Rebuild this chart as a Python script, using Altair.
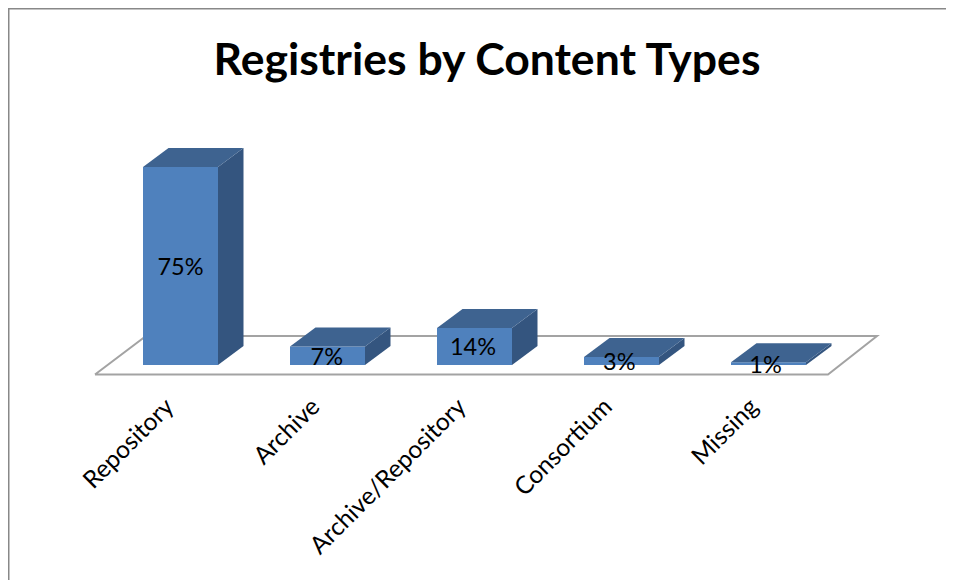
import altair as alt
import pandas as pd

categories = ["Repository", "Archive", "Archive/Repository", "Consortium", "Missing"]
values = [75, 7, 14, 3, 1]
labels = ["75%", "7%", "14%", "3%", "1%"]
title = "Registries by Content Types"

FONT = "Lato"
W, H = 938, 572
PITCH = 147.0          # px per category
PX_PER_PCT = 2.64      # px per percent
BAR = 75 / PITCH       # bar width in category units
DX = 25.5 / PITCH      # depth offset in category units
DY = 19 / PX_PER_PCT   # depth offset in percent units

x_scale = alt.Scale(domain=[(8 - 143) / PITCH, (946 - 143) / PITCH], nice=False, zero=False)
y_scale = alt.Scale(domain=[(365 - 580) / PX_PER_PCT, (365 - 8) / PX_PER_PCT], nice=False, zero=False)
X = lambda f: alt.X(f, type="quantitative", scale=x_scale, axis=None)
Y = lambda f: alt.Y(f, type="quantitative", scale=y_scale, axis=None, stack=None)

front, side, top, text, ticks = [], [], [], [], []
for i, (c, v, l) in enumerate(zip(categories, values, labels)):
    a, b = i, i + BAR
    front.append(dict(c=c, x=a, x2=b, y=0, y2=v))
    side += [dict(c=c, k=0, x=b, y=0, y2=v), dict(c=c, k=1, x=b + DX, y=DY, y2=v + DY)]
    top += [
        dict(c=c, k=0, x=a, y=v, y2=v),
        dict(c=c, k=1, x=a + DX, y=v, y2=v + DY),
        dict(c=c, k=2, x=b, y=v, y2=v + DY),
        dict(c=c, k=3, x=b + DX, y=v + DY, y2=v + DY),
    ]
    text.append(dict(x=(a + b) / 2 - 0.005 * i, y=v / 2 - 0.7, t=l))
    ticks.append(dict(x=i * 0.994 + 0.185, y=-14.5, t=c))

# floor outline, in the same scales
fy0, fy1 = -3.6, 11
floor_pts = [((95 - 143) / PITCH, fy0), ((828 - 143) / PITCH, fy0),
             ((877 - 143) / PITCH, fy1), ((146 - 143) / PITCH, fy1),
             ((95 - 143) / PITCH, fy0)]
floor = pd.DataFrame([dict(k=k, x=x, y=y) for k, (x, y) in enumerate(floor_pts)])

floor_l = alt.Chart(floor).mark_line(color="#A3A3A3", strokeWidth=2, strokeJoin="miter").encode(
    x=X("x"), y=Y("y"), order="k:Q")

front_l = alt.Chart(pd.DataFrame(front)).mark_rect(color="#4F81BD").encode(
    x=X("x"), x2="x2", y=Y("y"), y2="y2")
side_l = alt.Chart(pd.DataFrame(side)).mark_area(color="#34557F", orient="vertical").encode(
    x=X("x"), y=Y("y"), y2="y2", detail="c:N")
top_l = alt.Chart(pd.DataFrame(top)).mark_area(color="#3E6390", orient="vertical").encode(
    x=X("x"), y=Y("y"), y2="y2", detail="c:N")

text_l = alt.Chart(pd.DataFrame(text)).mark_text(font=FONT, fontSize=23.5, color="#000000").encode(
    x=X("x"), y=Y("y"), text="t:N")
tick_l = alt.Chart(pd.DataFrame(ticks)).mark_text(
    font=FONT, fontSize=24.5, color="#000000", angle=315, align="right", baseline="middle"
).encode(x=X("x"), y=Y("y"), text="t:N")

# frame: left and top edges of the chart area
frame_v = alt.Chart(pd.DataFrame({"x": [8]})).mark_rule(color="#888888", strokeWidth=2).encode(
    x=alt.value(0.5), y=alt.value(0), y2=alt.value(H))
frame_h = alt.Chart(pd.DataFrame({"x": [8]})).mark_rule(color="#888888", strokeWidth=2).encode(
    y=alt.value(0.5), x=alt.value(0), x2=alt.value(W))

chart = alt.layer(
    frame_v, frame_h, floor_l, front_l, side_l, top_l, text_l, tick_l
).properties(
    width=W, height=H,
    padding=0,
    autosize=alt.AutoSizeParams(type="none"),
    title=alt.TitleParams(title, font=FONT, fontSize=44.5, fontWeight="bold", color="#000000",
                          anchor="middle", offset=0, baseline="alphabetic", dx=10, dy=112),
).configure_view(stroke=None).configure(background="white")

chart.save("out.html", embed_options={"renderer": "svg", "actions": False})
